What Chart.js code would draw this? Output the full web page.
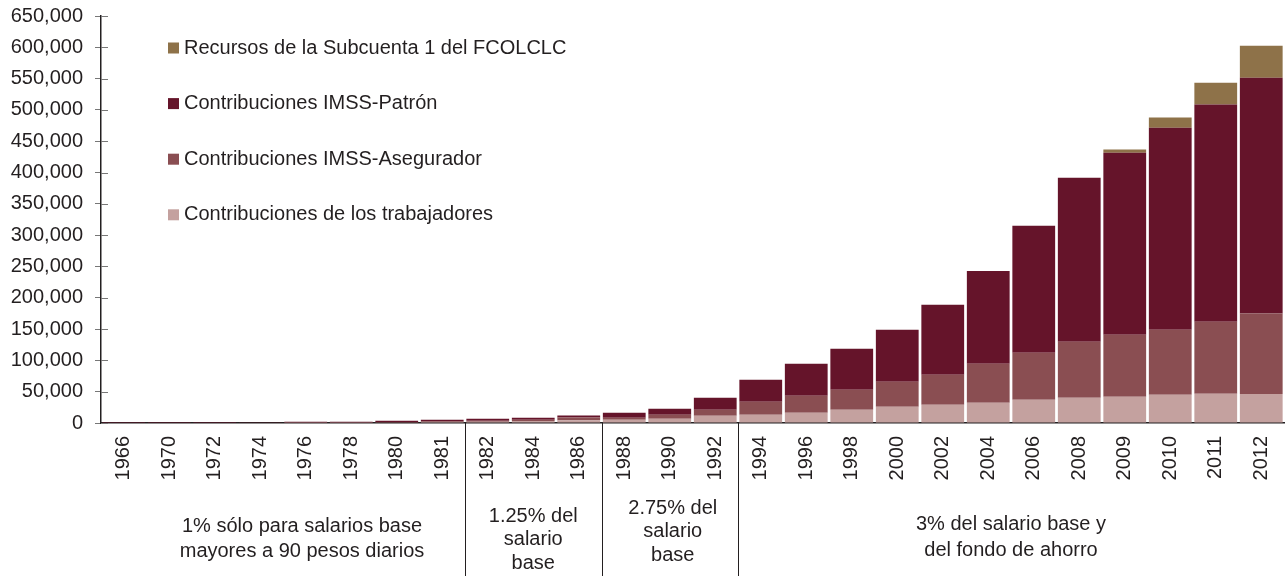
<!DOCTYPE html>
<html>
<head>
<meta charset="utf-8">
<script src="https://cdn.jsdelivr.net/npm/chart.js@4"></script>
<style>
  html, body { margin: 0; padding: 0; background: #fff; }
  #wrap { width: 1286px; height: 576px; position: relative; }
</style>
</head>
<body>
<div id="wrap"><canvas id="chart"></canvas></div>
<script>
Chart.defaults.font.family = "'Liberation Sans', Arial, Helvetica, sans-serif";
Chart.defaults.font.size = 20;
Chart.defaults.color = '#231f20';

const years = ['1966','1970','1972','1974','1976','1978','1980','1981','1982','1984','1986','1988','1990','1992',
               '1994','1996','1998','2000','2002','2004','2006','2008','2009','2010','2011','2012'];

const trabajadores = [0, 0, 0, 0, 300, 300, 700, 1500, 2100, 3200, 4300, 5300, 6900, 11700,
                      13300, 16400, 21000, 26000, 29000, 32400, 37000, 40400, 42000, 45000, 46800, 46500];
const asegurador   = [0, 0, 0, 0, 300, 300, 1000, 1300, 1600, 2100, 4300, 3200, 6400, 9600,
                      20700, 27200, 32000, 40000, 48000, 62400, 75000, 89300, 99000, 104000, 115000, 128500];
const patron       = [100, 100, 150, 200, 1400, 1400, 2000, 2500, 3200, 3200, 3200, 8000, 9600, 19200,
                      35200, 51200, 65600, 83000, 112000, 148000, 203000, 262000, 290800, 322700, 346700, 376400];
const recursos     = [0, 0, 0, 0, 0, 0, 0, 0, 0, 0, 0, 0, 0, 0,
                      0, 0, 0, 0, 0, 0, 0, 0, 4800, 16000, 35000, 51000];

const seriesNames = ['Contribuciones de los trabajadores', 'Contribuciones IMSS-Asegurador',
                     'Contribuciones IMSS-Patrón', 'Recursos de la Subcuenta 1 del FCOLCLC'];
const seriesColors = ['#c4a19f', '#8a4e52', '#65142a', '#8e7249'];

// periodos de aportación bajo el eje x (último año de cada tramo)
const groupLines = [
  ['1% sólo para salarios base', 'mayores a 90 pesos diarios'],
  ['1.25% del', 'salario', 'base'],
  ['2.75% del', 'salario', 'base'],
  ['3% del salario base y', 'del fondo de ahorro']
];
const groupEnd = ['1981', '1986', '1992', '2012'];
const groupShift = [19, 0, 3, 0];
const groupTextY = [526, 516, 508, 524];
const groupLineH = [25, 23.5, 23.5, 26];

const yTicks = { min: 0, max: 650000, step: 50000 };

// marcas del eje y hacia dentro
const innerTicks = {
  id: 'innerTicks',
  afterDraw(chart) {
    const { ctx, scales: { y }, chartArea } = chart;
    ctx.save();
    ctx.strokeStyle = '#777';
    ctx.lineWidth = 1;
    y.ticks.forEach(t => {
      const py = Math.round(y.getPixelForValue(t.value)) + 0.5;
      ctx.beginPath();
      ctx.moveTo(chartArea.left, py);
      ctx.lineTo(chartArea.left + 7, py);
      ctx.stroke();
    });
    ctx.restore();
  }
};

const legendBox = {
  id: 'legendBox',
  afterDraw(chart) {
    const { ctx } = chart;
    const ds = chart.data.datasets.slice().reverse();
    ctx.save();
    ctx.font = "20px 'Liberation Sans', Arial, sans-serif";
    ctx.textBaseline = 'middle';
    ds.forEach((d, i) => {
      const cy = 48 + i * 55.6;
      ctx.fillStyle = d.backgroundColor;
      ctx.fillRect(168, cy - 5.5, 11, 11);
      ctx.fillStyle = '#231f20';
      ctx.fillText(d.label, 184, cy);
    });
    ctx.restore();
  }
};

const periodLabels = {
  id: 'periodLabels',
  afterDraw(chart) {
    const { ctx, scales: { x }, chartArea } = chart;
    const half = (x.getPixelForValue(1) - x.getPixelForValue(0)) / 2;
    ctx.save();
    ctx.strokeStyle = '#231f20';
    ctx.lineWidth = 1;
    ctx.fillStyle = '#231f20';
    ctx.font = "20px 'Liberation Sans', Arial, sans-serif";
    ctx.textAlign = 'center';
    ctx.textBaseline = 'middle';
    let start = chartArea.left;
    groupEnd.forEach((yr, g) => {
      const idx = years.indexOf(yr);
      const end = x.getPixelForValue(idx) + half;
      if (g < groupEnd.length - 1) {
        const sx = Math.round(end) + 0.5;
        ctx.beginPath();
        ctx.moveTo(sx, chartArea.bottom);
        ctx.lineTo(sx, chart.height);
        ctx.stroke();
      }
      const cx = (start + end) / 2 + groupShift[g];
      groupLines[g].forEach((line, k) => ctx.fillText(line, cx, groupTextY[g] + k * groupLineH[g]));
      start = end;
    });
    ctx.restore();
  }
};

const datasets = [trabajadores, asegurador, patron, recursos].map((vals, i) => ({
  label: seriesNames[i],
  data: vals,
  backgroundColor: seriesColors[i],
  borderWidth: 0,
  categoryPercentage: 1,
  barPercentage: 0.94
}));

new Chart(document.getElementById('chart'), {
  type: 'bar',
  data: { labels: years, datasets },
  options: {
    responsive: true,
    maintainAspectRatio: false,
    animation: false,
    layout: { padding: { top: 16, right: 2, left: 0, bottom: 0 } },
    plugins: { legend: { display: false }, tooltip: { enabled: false } },
    scales: {
      x: {
        stacked: true,
        afterFit: s => { s.height = 153; s.paddingLeft = 0; s.paddingRight = 0; },
        grid: { display: true, drawOnChartArea: false, drawTicks: false },
        border: { color: '#231f20', width: 1.5 },
        ticks: { minRotation: 90, maxRotation: 90, padding: 13, autoSkip: false, color: '#231f20' }
      },
      y: {
        stacked: true,
        min: yTicks.min,
        max: yTicks.max,
        afterFit: s => { s.width = 101; s.paddingTop = 0; s.paddingBottom = 0; },
        grid: { display: true, drawOnChartArea: false, drawTicks: true, tickLength: 6, color: '#777' },
        border: { color: '#231f20', width: 1.5 },
        ticks: {
          stepSize: yTicks.step,
          padding: 12,
          color: '#231f20',
          callback: v => v.toLocaleString('en-US')
        }
      }
    }
  },
  plugins: [innerTicks, legendBox, periodLabels]
});
</script>
</body>
</html>
